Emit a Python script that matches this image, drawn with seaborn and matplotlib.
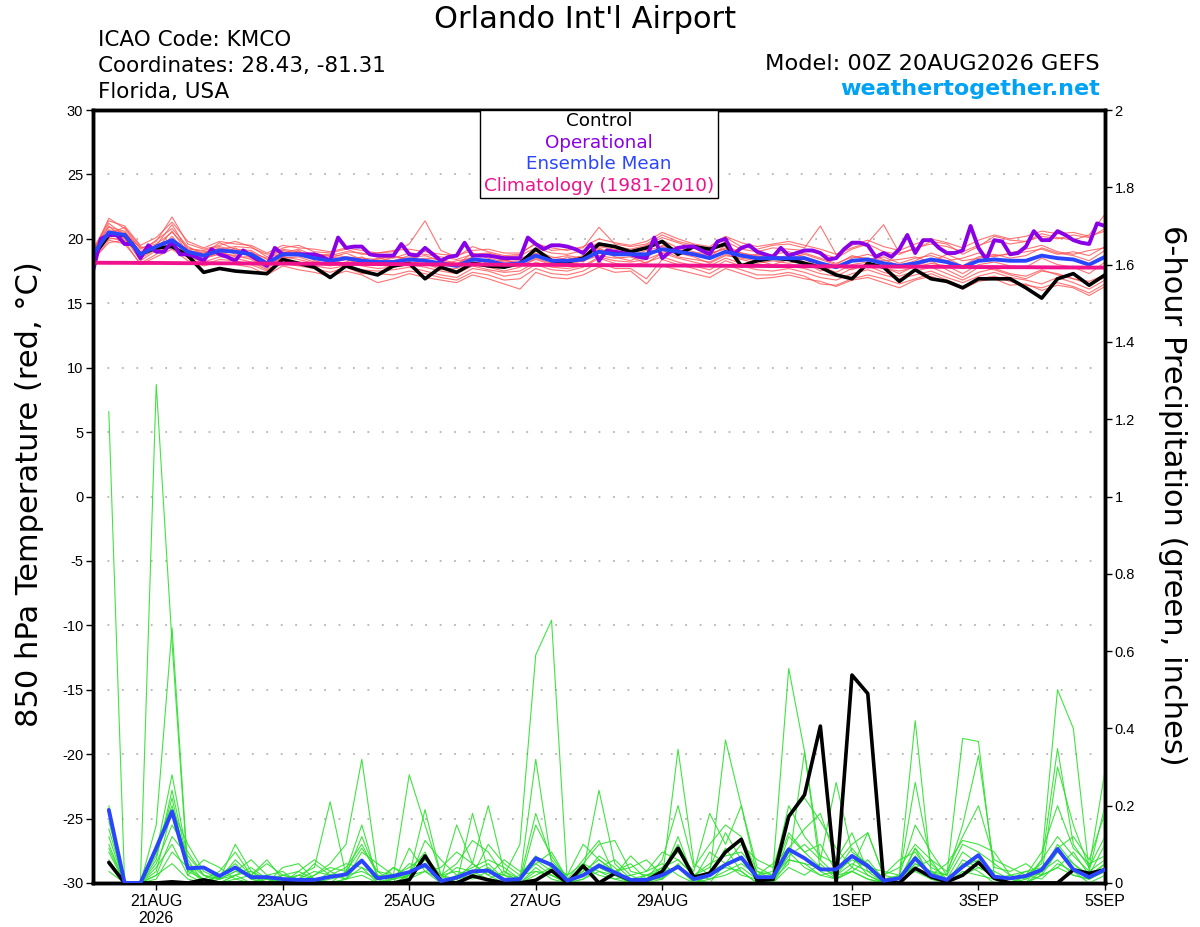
import pandas as pd
import seaborn as sns
import matplotlib
matplotlib.use("Agg")
import matplotlib.pyplot as plt
from matplotlib.patches import Rectangle

# forecast hours after 00Z 20AUG2026
fhour_6h = list(range(0, 385, 6))       # temperature, 65 times
fhour_3h = list(range(0, 385, 3))       # operational run is 3-hourly
fhour_precip = list(range(6, 385, 6))   # 6-hour totals, 64 times

temp_control = [18.6, 20.3, 20.3, 18.8, 19.3, 19.4, 18.7, 17.4, 17.7, 17.5,
                17.4, 17.3, 18.4, 18.1, 17.8, 17.0, 17.9, 17.5, 17.2, 17.9,
                18.1, 16.9, 17.8, 17.4, 18.1, 17.9, 17.8, 18.1, 19.2, 18.3,
                18.2, 18.5, 19.6, 19.4, 19.0, 19.3, 19.8, 18.8, 19.4, 19.2,
                19.6, 17.9, 18.3, 18.5, 18.4, 18.1, 17.8, 17.2, 16.9, 18.1,
                17.8, 16.7, 17.6, 16.9, 16.7, 16.2, 16.9, 16.9, 16.9, 16.2,
                15.4, 16.9, 17.3, 16.4, 17.2]

temp_oper = [17.5, 20.0, 20.3, 20.3, 19.6, 19.6, 18.5, 19.5, 19.0, 19.0,
             19.8, 18.8, 18.8, 18.6, 18.3, 19.2, 18.8, 18.6, 18.3, 19.1,
             18.7, 18.3, 17.9, 19.3, 18.8, 18.8, 18.8, 18.8, 18.8, 18.6,
             18.3, 20.1, 19.3, 19.4, 19.4, 18.8, 18.7, 18.7, 18.7, 19.6,
             18.8, 18.7, 19.3, 18.8, 18.3, 18.6, 18.7, 19.7, 18.7, 18.7,
             18.7, 18.6, 18.5, 18.5, 18.5, 20.1, 19.6, 19.2, 19.5, 19.5,
             19.4, 19.2, 18.9, 19.6, 18.3, 19.1, 19.0, 18.9, 18.8, 18.6,
             18.5, 20.1, 18.5, 19.0, 19.3, 19.4, 19.4, 19.1, 18.8, 19.8,
             20.0, 18.8, 19.3, 19.5, 19.0, 18.8, 18.6, 19.3, 18.7, 18.9,
             19.1, 19.1, 18.9, 18.4, 18.5, 19.2, 19.7, 19.7, 19.5, 18.6,
             18.9, 18.6, 19.2, 20.3, 18.9, 19.9, 19.9, 19.3, 18.9, 18.9,
             19.1, 21.0, 19.3, 18.4, 19.9, 19.8, 18.8, 18.9, 19.4, 20.6,
             19.9, 19.9, 20.6, 20.3, 19.9, 19.7, 19.6, 21.2, 21.0]

temp_mean = [18.8, 20.5, 20.3, 18.8, 19.4, 19.9, 19.0, 18.7, 19.1, 19.0,
             18.8, 18.1, 18.8, 18.8, 18.5, 18.3, 18.5, 18.3, 18.2, 18.2,
             18.4, 18.3, 18.1, 17.9, 18.4, 18.3, 18.0, 18.1, 18.7, 18.3,
             18.3, 18.4, 19.0, 18.8, 18.8, 18.8, 19.2, 19.0, 18.8, 18.5,
             19.0, 18.7, 18.5, 18.5, 18.5, 18.5, 18.1, 17.8, 18.3, 18.4,
             18.1, 17.9, 18.1, 18.4, 18.2, 17.8, 18.3, 18.4, 18.3, 18.3,
             18.7, 18.5, 18.4, 18.0, 18.6]

temp_clim = [18.15, 18.14, 18.14, 18.13, 18.13, 18.12, 18.11, 18.11, 18.10, 18.10,
             18.09, 18.08, 18.08, 18.07, 18.07, 18.06, 18.05, 18.05, 18.04, 18.04,
             18.03, 18.02, 18.02, 18.01, 18.01, 18.00, 17.99, 17.99, 17.98, 17.98,
             17.97, 17.96, 17.96, 17.95, 17.95, 17.94, 17.93, 17.93, 17.92, 17.92,
             17.91, 17.90, 17.90, 17.89, 17.89, 17.88, 17.87, 17.87, 17.86, 17.86,
             17.85, 17.84, 17.84, 17.83, 17.83, 17.82, 17.81, 17.81, 17.80, 17.80,
             17.79, 17.78, 17.78, 17.77, 17.77]

temp_members = [
    [18.9, 21.6, 20.8, 19.2, 19.8, 21.7, 19.6, 19.2, 19.5, 19.8, 19.4, 18.6, 19.3,
     19.5, 19.0, 18.9, 19.2, 18.8, 18.9, 19.0, 19.6, 21.4, 19.1, 18.6, 19.4, 19.0,
     18.7, 18.8, 19.7, 19.1, 19.2, 19.3, 20.9, 19.6, 19.4, 19.6, 20.3, 19.8, 19.5,
     19.2, 20.1, 19.4, 19.2, 19.5, 19.6, 19.3, 21.0, 18.8, 19.3, 19.7, 21.1, 18.9,
     19.2, 19.8, 19.6, 18.8, 19.4, 20.2, 19.9, 19.8, 20.4, 20.1, 19.9, 20.3, 21.9],
    [18.5, 20.1, 19.8, 18.0, 18.6, 19.2, 18.3, 17.9, 18.2, 18.0, 17.8, 17.2, 17.9,
     17.6, 17.4, 17.1, 17.5, 17.2, 16.6, 16.9, 17.3, 17.0, 16.8, 16.6, 17.2, 16.9,
     16.5, 16.1, 17.4, 17.0, 16.9, 17.2, 17.8, 17.4, 17.5, 16.5, 17.9, 17.6, 17.3,
     17.0, 17.7, 17.3, 16.9, 17.0, 17.2, 16.9, 16.7, 16.3, 16.8, 17.0, 16.6, 16.2,
     16.8, 17.1, 16.6, 16.1, 16.7, 16.9, 16.4, 16.5, 16.0, 16.4, 16.2, 15.6, 16.3],
    [19.0, 20.9, 20.6, 19.0, 19.9, 20.8, 19.4, 18.8, 19.7, 19.2, 19.1, 18.4, 19.2,
     19.0, 18.6, 18.5, 18.9, 18.4, 18.2, 18.6, 18.5, 18.7, 18.3, 18.0, 18.9, 18.5,
     18.2, 18.3, 19.1, 18.6, 18.4, 18.7, 19.4, 19.2, 19.0, 19.3, 19.9, 19.3, 19.0,
     18.6, 19.5, 18.9, 18.6, 18.8, 19.0, 18.6, 18.2, 17.7, 18.5, 18.8, 18.4, 17.9,
     18.3, 18.9, 18.5, 17.9, 18.6, 18.8, 18.5, 18.7, 19.3, 18.9, 18.7, 18.3, 19.1],
    [18.6, 20.4, 20.9, 19.4, 19.0, 20.2, 18.8, 18.5, 18.8, 19.3, 18.5, 17.9, 18.6,
     19.1, 18.3, 18.0, 18.2, 18.6, 18.0, 17.8, 18.2, 18.0, 17.8, 17.5, 18.0, 18.4,
     17.8, 17.9, 18.4, 18.0, 18.6, 18.2, 19.2, 18.6, 18.3, 18.9, 19.1, 18.6, 18.4,
     18.2, 18.8, 18.4, 18.1, 18.3, 18.1, 18.4, 17.8, 17.4, 18.0, 18.2, 17.7, 17.5,
     17.8, 18.1, 17.9, 17.3, 18.0, 18.2, 17.9, 17.8, 18.5, 18.0, 17.8, 17.3, 18.2],
    [19.1, 21.2, 20.3, 18.6, 19.5, 21.1, 19.1, 18.9, 19.3, 18.8, 19.0, 18.2, 19.0,
     18.7, 18.9, 18.6, 18.4, 18.1, 18.5, 18.3, 18.7, 18.2, 18.0, 18.3, 18.5, 18.1,
     18.4, 18.0, 18.9, 18.4, 18.1, 18.6, 19.3, 18.7, 19.1, 18.5, 19.5, 19.2, 18.7,
     18.8, 19.3, 18.9, 18.7, 18.5, 18.7, 18.9, 18.5, 18.1, 18.6, 18.5, 18.3, 18.4,
     18.6, 18.2, 18.8, 18.3, 18.5, 18.7, 18.8, 19.0, 19.2, 18.8, 19.0, 18.7, 19.4],
    [18.7, 20.0, 20.1, 18.3, 19.1, 19.6, 18.6, 18.2, 18.6, 18.5, 18.2, 17.6, 18.3,
     18.2, 17.9, 17.7, 17.9, 17.6, 17.5, 17.6, 17.8, 17.5, 17.2, 17.0, 17.7, 17.5,
     17.1, 17.3, 18.0, 17.6, 17.5, 17.8, 18.5, 18.1, 17.9, 18.2, 18.6, 18.2, 17.9,
     17.6, 18.3, 17.9, 17.6, 17.5, 17.7, 17.4, 17.0, 16.8, 17.3, 17.6, 17.2, 16.9,
     17.2, 17.5, 17.0, 16.6, 17.1, 17.4, 17.0, 16.8, 16.5, 17.0, 16.6, 16.1, 16.8],
    [18.8, 20.7, 20.5, 19.3, 19.6, 20.5, 19.3, 19.0, 19.2, 19.4, 19.3, 18.8, 19.1,
     18.9, 18.8, 18.7, 19.0, 18.9, 18.6, 18.5, 18.9, 18.8, 18.6, 18.4, 18.8, 18.9,
     18.6, 18.7, 19.3, 18.9, 18.8, 19.1, 19.7, 19.4, 19.2, 19.5, 20.1, 19.7, 19.3,
     19.0, 19.8, 19.2, 19.0, 19.3, 19.2, 19.1, 18.9, 18.5, 19.2, 19.6, 19.0, 18.8,
     19.3, 19.6, 19.4, 19.0, 19.5, 19.9, 19.6, 19.8, 20.2, 20.0, 20.3, 20.1, 20.8],
    [18.4, 19.7, 19.9, 18.8, 19.3, 19.4, 19.0, 18.4, 19.0, 18.6, 18.6, 17.9, 18.5,
     18.6, 18.2, 18.1, 18.4, 18.0, 18.1, 18.0, 18.2, 18.1, 17.6, 17.7, 18.2, 17.8,
     17.5, 17.8, 18.5, 18.1, 18.0, 18.3, 18.7, 18.5, 18.6, 18.1, 18.9, 18.9, 18.6,
     18.1, 18.7, 18.5, 18.3, 18.0, 18.4, 18.2, 17.5, 17.9, 17.6, 18.1, 17.8, 17.3,
     17.9, 18.3, 17.6, 17.0, 17.8, 17.6, 17.2, 16.9, 17.5, 17.3, 16.9, 16.7, 17.2],
    [19.0, 21.0, 20.0, 18.9, 19.5, 20.0, 19.2, 19.1, 19.4, 19.1, 18.9, 18.5, 18.9,
     19.2, 18.7, 18.8, 18.6, 18.5, 18.4, 18.7, 18.3, 18.5, 18.4, 18.1, 18.6, 18.7,
     18.3, 18.5, 18.8, 18.5, 18.7, 18.5, 19.1, 19.0, 18.7, 19.1, 19.4, 19.1, 18.9,
     18.9, 19.2, 18.6, 18.8, 18.7, 18.5, 18.8, 18.4, 18.0, 18.7, 18.4, 18.6, 18.1,
     18.5, 18.7, 18.3, 18.5, 18.9, 18.6, 18.9, 19.2, 19.5, 19.0, 18.8, 19.1, 19.3],
    [18.6, 20.3, 20.4, 18.5, 19.2, 20.6, 18.9, 18.6, 18.9, 18.7, 18.4, 17.7, 18.6,
     18.4, 18.1, 17.9, 18.1, 17.9, 17.7, 17.8, 18.0, 17.8, 17.5, 17.3, 17.9, 17.6,
     17.4, 17.5, 18.2, 17.8, 17.7, 17.9, 18.6, 18.3, 18.2, 18.4, 18.9, 18.5, 18.2,
     17.9, 18.5, 18.1, 17.9, 17.8, 17.9, 17.7, 17.3, 17.1, 17.7, 17.9, 17.4, 17.1,
     17.5, 17.8, 17.3, 16.8, 17.4, 17.7, 17.3, 17.1, 17.6, 17.2, 16.9, 16.5, 17.0],
    [19.2, 21.4, 21.0, 19.5, 20.1, 21.3, 19.8, 19.3, 19.8, 19.6, 19.5, 18.9, 19.5,
     19.3, 19.2, 19.0, 19.3, 19.1, 18.9, 19.1, 19.2, 19.0, 18.8, 18.7, 19.1, 19.2,
     18.9, 18.9, 19.6, 19.3, 19.1, 19.4, 20.0, 19.7, 19.5, 19.8, 20.5, 20.0, 19.6,
     19.4, 20.2, 19.7, 19.4, 19.6, 19.8, 19.5, 19.2, 18.8, 19.5, 19.9, 19.4, 19.1,
     19.6, 20.0, 19.7, 19.3, 19.9, 20.3, 20.0, 20.2, 20.6, 20.4, 20.5, 20.2, 20.6],
    [18.3, 19.9, 19.6, 18.1, 18.8, 19.7, 18.5, 18.0, 18.4, 18.3, 18.0, 17.5, 18.1,
     17.9, 17.7, 17.4, 17.8, 17.3, 17.3, 17.2, 17.5, 17.3, 17.0, 16.8, 17.4, 17.2,
     16.8, 16.9, 17.7, 17.3, 17.2, 17.5, 18.2, 17.7, 17.7, 16.9, 18.4, 18.0, 17.7,
     17.3, 18.0, 17.6, 17.2, 17.2, 17.4, 17.1, 16.5, 16.4, 16.9, 17.2, 16.9, 16.5,
     16.9, 17.3, 16.8, 16.3, 16.9, 17.1, 16.7, 16.4, 16.2, 16.6, 16.3, 15.8, 16.5],
]

precip_control = [0.053, 0, 0, 0, 0.003, 0, 0.008, 0,
                  0, 0, 0, 0, 0.005, 0, 0, 0,
                  0, 0, 0, 0.008, 0.07, 0.006, 0, 0.018,
                  0.008, 0, 0, 0.007, 0.032, 0, 0.044, 0,
                  0.025, 0.007, 0.006, 0.03, 0.09, 0.015, 0.025, 0.08,
                  0.113, 0.006, 0.009, 0.172, 0.228, 0.406, 0, 0.538,
                  0.49, 0.006, 0, 0.038, 0.016, 0.003, 0.02, 0.053,
                  0.012, 0, 0, 0, 0, 0.034, 0.025, 0.034]

precip_mean = [0.189, 0, 0, 0.09, 0.185, 0.038, 0.04, 0.018,
               0.04, 0.015, 0.015, 0.01, 0.008, 0.008, 0.016, 0.022,
               0.058, 0.012, 0.018, 0.028, 0.047, 0.005, 0.014, 0.03,
               0.032, 0.008, 0.01, 0.064, 0.047, 0.006, 0.02, 0.045,
               0.027, 0.008, 0.008, 0.02, 0.042, 0.01, 0.02, 0.047,
               0.066, 0.015, 0.015, 0.087, 0.064, 0.035, 0.035, 0.07,
               0.044, 0.006, 0.012, 0.064, 0.02, 0.008, 0.042, 0.072,
               0.016, 0.012, 0.018, 0.034, 0.088, 0.035, 0.015, 0.035]

precip_members = [
    [1.22, 0, 0, 0.02, 0.05, 0.01, 0, 0.02, 0.05, 0.01, 0, 0, 0.01, 0, 0.02, 0.01,
     0.06, 0, 0.01, 0.03, 0.08, 0, 0.01, 0.05, 0.02, 0, 0.01, 0.06, 0.03, 0, 0.02, 0.07,
     0.04, 0, 0, 0.02, 0.09, 0.01, 0.03, 0.05, 0.06, 0.01, 0, 0.12, 0.08, 0.04, 0.02, 0.05,
     0.03, 0, 0.01, 0.07, 0.02, 0, 0.04, 0.06, 0.01, 0.02, 0, 0.03, 0.1, 0.05, 0.01, 0.03],
    [0.14, 0, 0, 1.29, 0.62, 0.02, 0, 0.01, 0.03, 0.02, 0.06, 0.01, 0, 0, 0.01, 0.02,
     0.03, 0.01, 0, 0.02, 0.06, 0.01, 0, 0.02, 0.04, 0.01, 0, 0.03, 0.02, 0, 0.05, 0.03,
     0.01, 0, 0.02, 0.01, 0.05, 0, 0.02, 0.09, 0.03, 0, 0.01, 0.05, 0.34, 0.06, 0.02, 0.07,
     0.02, 0, 0, 0.09, 0.01, 0, 0.05, 0.03, 0, 0.01, 0, 0.02, 0.04, 0.08, 0.02, 0.05],
    [0.2, 0, 0, 0.15, 0.66, 0.03, 0.01, 0, 0.02, 0.04, 0.01, 0, 0.03, 0.01, 0, 0.01,
     0.02, 0, 0.04, 0.01, 0.03, 0, 0.02, 0.01, 0.03, 0.02, 0.1, 0.59, 0.68, 0, 0.01, 0.03,
     0.02, 0, 0.01, 0.03, 0.04, 0.01, 0, 0.05, 0.02, 0.01, 0, 0.04, 0.02, 0.05, 0.01, 0.03,
     0.01, 0, 0.02, 0.04, 0.06, 0, 0.02, 0.05, 0.01, 0, 0.02, 0.01, 0.05, 0.03, 0, 0.02],
    [0.1, 0, 0, 0.06, 0.24, 0.05, 0.02, 0, 0.01, 0, 0.02, 0.03, 0, 0.02, 0.05, 0.1,
     0.32, 0.03, 0, 0.02, 0.05, 0.01, 0.04, 0.03, 0.01, 0.03, 0, 0.02, 0.04, 0, 0.03, 0.06,
     0.03, 0, 0.01, 0.04, 0.06, 0.02, 0.01, 0.03, 0.05, 0.02, 0.03, 0.555, 0.34, 0.03, 0.01, 0.04,
     0.02, 0, 0.01, 0.05, 0.03, 0.01, 0.02, 0.04, 0.02, 0, 0.01, 0.03, 0.06, 0.02, 0.01, 0.03],
    [0.08, 0, 0, 0.03, 0.19, 0.1, 0.03, 0.01, 0.02, 0.03, 0, 0.01, 0.02, 0.04, 0.21, 0.02,
     0.06, 0.01, 0.02, 0.28, 0.15, 0.02, 0.01, 0.03, 0.05, 0.01, 0, 0.04, 0.01, 0, 0.04, 0.02,
     0.01, 0.02, 0.03, 0.05, 0.02, 0, 0.02, 0.04, 0.03, 0, 0.02, 0.06, 0.05, 0.02, 0.03, 0.06,
     0.04, 0, 0.02, 0.42, 0.03, 0, 0.06, 0.04, 0.02, 0.01, 0, 0.06, 0.5, 0.4, 0.03, 0.06],
    [0.05, 0, 0, 0.08, 0.28, 0.06, 0, 0.02, 0.04, 0.01, 0, 0.02, 0.01, 0, 0.03, 0.05,
     0.04, 0.02, 0.01, 0.02, 0.19, 0.02, 0, 0.18, 0.03, 0.02, 0.01, 0.05, 0.02, 0, 0.02, 0.04,
     0.06, 0.02, 0, 0.01, 0.346, 0.05, 0.02, 0.37, 0.2, 0.02, 0, 0.08, 0.04, 0.02, 0.01, 0.03,
     0.06, 0.01, 0, 0.05, 0.03, 0.02, 0.374, 0.366, 0.02, 0.01, 0.03, 0.02, 0.08, 0.05, 0.02, 0.1],
    [0.16, 0, 0, 0.1, 0.2, 0.04, 0.01, 0.03, 0.08, 0.02, 0, 0.04, 0.05, 0.01, 0, 0.03,
     0.15, 0.01, 0.04, 0.02, 0.03, 0.01, 0.15, 0.05, 0.2, 0.03, 0.01, 0.18, 0.06, 0.01, 0.03, 0.24,
     0.05, 0.01, 0.02, 0.03, 0.1, 0.02, 0.05, 0.07, 0.08, 0.03, 0.01, 0.07, 0.1, 0.06, 0.26, 0.08,
     0.05, 0.01, 0.02, 0.26, 0.05, 0.01, 0.08, 0.05, 0.03, 0.01, 0.02, 0.05, 0.348, 0.1, 0.04, 0.29],
    [0.12, 0, 0, 0.05, 0.15, 0.08, 0.02, 0.01, 0.03, 0.06, 0.02, 0, 0.01, 0.03, 0.02, 0.04,
     0.1, 0.02, 0.01, 0.05, 0.04, 0.02, 0.03, 0.02, 0.1, 0.05, 0.02, 0.07, 0.04, 0.02, 0.05, 0.1,
     0.11, 0.03, 0.02, 0.04, 0.08, 0.03, 0.18, 0.1, 0.2, 0.04, 0.02, 0.2, 0.12, 0.07, 0.05, 0.1,
     0.13, 0.02, 0.01, 0.09, 0.04, 0.02, 0.1, 0.08, 0.05, 0.02, 0.01, 0.06, 0.12, 0.07, 0.03, 0.2],
    [0.09, 0, 0, 0.04, 0.1, 0.02, 0.06, 0.04, 0.01, 0.02, 0.05, 0.02, 0.03, 0.06, 0.03, 0.01,
     0.08, 0.05, 0.02, 0.01, 0.11, 0.06, 0.02, 0.04, 0.06, 0.04, 0.01, 0.32, 0.05, 0.02, 0.1, 0.06,
     0.03, 0.04, 0.06, 0.02, 0.12, 0.01, 0.08, 0.05, 0.1, 0.06, 0.04, 0.17, 0.22, 0.16, 0.09, 0.04,
     0.13, 0.02, 0.04, 0.1, 0.06, 0.03, 0.12, 0.2, 0.06, 0.04, 0.02, 0.08, 0.2, 0.09, 0.05, 0.07],
    [0.06, 0, 0, 0.02, 0.12, 0.07, 0.02, 0.01, 0.1, 0.03, 0.01, 0.02, 0.01, 0.05, 0.02, 0.02,
     0.12, 0.02, 0, 0.09, 0.03, 0.04, 0.08, 0.05, 0.02, 0.06, 0.03, 0.05, 0.08, 0.01, 0.06, 0.11,
     0.02, 0.07, 0.03, 0.08, 0.06, 0.02, 0.04, 0.13, 0.06, 0.02, 0.05, 0.09, 0.14, 0.18, 0.06, 0.13,
     0.03, 0.02, 0.06, 0.08, 0.02, 0.05, 0.11, 0.1, 0.08, 0.02, 0.03, 0.04, 0.09, 0.12, 0.06, 0.18],
    [0.03, 0, 0, 0.01, 0.08, 0.04, 0, 0, 0.02, 0, 0.01, 0, 0.02, 0.01, 0, 0.01,
     0.04, 0, 0.01, 0.02, 0.05, 0, 0.01, 0.02, 0.01, 0, 0.02, 0.03, 0.02, 0, 0.01, 0.04,
     0.02, 0, 0.01, 0.01, 0.04, 0, 0.01, 0.02, 0.04, 0.01, 0, 0.06, 0.05, 0.04, 0.02, 0.03,
     0.01, 0, 0.01, 0.03, 0.01, 0, 0.03, 0.02, 0.01, 0, 0, 0.02, 0.04, 0.02, 0.01, 0.05],
    [0.18, 0, 0, 0.07, 0.22, 0.03, 0.04, 0.01, 0.06, 0.02, 0.01, 0.01, 0, 0.02, 0.04, 0.03,
     0.09, 0.03, 0.02, 0.04, 0.07, 0.02, 0.05, 0.11, 0.08, 0.02, 0, 0.15, 0.07, 0.01, 0.02, 0.05,
     0.03, 0.05, 0.01, 0.06, 0.2, 0.04, 0.1, 0.15, 0.12, 0.03, 0.02, 0.13, 0.08, 0.1, 0.03, 0.09,
     0.04, 0.03, 0.02, 0.15, 0.08, 0.02, 0.15, 0.33, 0.04, 0.03, 0.05, 0.02, 0.3, 0.15, 0.04, 0.12],
]

date_ticks = [24, 72, 120, 168, 216, 288, 336, 384]
date_labels = ["21AUG\n2026", "23AUG", "25AUG", "27AUG", "29AUG", "1SEP", "3SEP", "5SEP"]
temp_ticks = [-30, -25, -20, -15, -10, -5, 0, 5, 10, 15, 20, 25, 30]
precip_ticks = [0, 0.2, 0.4, 0.6, 0.8, 1, 1.2, 1.4, 1.6, 1.8, 2]
legend_entries = ["Control", "Operational", "Ensemble Mean", "Climatology (1981-2010)"]
legend_colors = ["black", "#8a00e6", "#2a45ff", "#f0128c"]


def to_long(members, hours, name):
    rows = []
    for k, vals in enumerate(members):
        for h, v in zip(hours, vals, strict=True):
            rows.append((k, h, v))
    return pd.DataFrame(rows, columns=["member", "hour", name])


df_temp = to_long(temp_members, fhour_6h, "temp")
df_precip = to_long(precip_members, fhour_precip, "precip")

sns.set_style("ticks")
plt.rcParams["font.family"] = ["Liberation Sans", "DejaVu Sans"]
plt.rcParams["axes.unicode_minus"] = False
plt.rcParams["text.color"] = "black"
plt.rcParams["xtick.color"] = "black"
plt.rcParams["ytick.color"] = "black"
plt.rcParams["xtick.labelcolor"] = "black"
plt.rcParams["ytick.labelcolor"] = "black"

wide = ["DejaVu Sans"]   # the original lettering runs wide

fig = plt.figure(figsize=(12, 9.27), dpi=100)
ax = fig.add_axes([0.0775, 0.0475, 0.8433, 0.8338])
ax2 = ax.twinx()

# temperature (left axis)
sns.lineplot(data=df_temp, x="hour", y="temp", units="member", estimator=None,
             color="#ff5050", lw=0.8, alpha=0.8, ax=ax, legend=False, zorder=2)
sns.lineplot(x=fhour_6h, y=temp_control, estimator=None, color="black", lw=2.6, ax=ax, zorder=4)
sns.lineplot(x=fhour_3h, y=temp_oper, estimator=None, color=legend_colors[1], lw=2.8, ax=ax, zorder=5)
sns.lineplot(x=fhour_6h, y=temp_mean, estimator=None, color=legend_colors[2], lw=2.8, ax=ax, zorder=6)
sns.lineplot(x=fhour_6h, y=temp_clim, estimator=None, color=legend_colors[3], lw=2.8, ax=ax, zorder=7)

# precipitation (right axis)
sns.lineplot(data=df_precip, x="hour", y="precip", units="member", estimator=None,
             color="#2ee02e", lw=0.8, alpha=0.9, ax=ax2, legend=False, zorder=2)
sns.lineplot(x=fhour_precip, y=precip_control, estimator=None, color="black", lw=2.6, ax=ax2, zorder=4)
sns.lineplot(x=fhour_precip, y=precip_mean, estimator=None, color=legend_colors[2], lw=2.8, ax=ax2, zorder=5)

ax.set_xlim(0, 384)
ax.set_ylim(-30, 30)
ax2.set_ylim(0, 2)
ax.set_xticks(date_ticks)
ax.set_xticklabels(date_labels)
ax.set_yticks(temp_ticks)
ax.set_yticklabels([str(t) for t in temp_ticks])
ax2.set_yticks(precip_ticks)
ax2.set_yticklabels([f"{p:g}" for p in precip_ticks])
ax.set_xlabel("")
ax.set_ylabel("")
ax2.set_ylabel("")

ax.yaxis.grid(True, color="#b4b4b4", linestyle=(0, (1, 7)), linewidth=1.3)
ax.set_axisbelow(True)

for a in (ax, ax2):
    for s in a.spines.values():
        s.set_linewidth(2.5)
        s.set_color("black")
ax.tick_params(axis="y", direction="out", length=5, width=1, labelsize=10.5, pad=2)
ax.tick_params(axis="x", direction="out", length=5, width=1, labelsize=11.5, pad=3)
ax2.tick_params(axis="y", direction="out", length=5, width=1, labelsize=10.5, pad=2)

# legend box, coloured text only
ax2.add_patch(Rectangle((0.3824, 0.8862), 0.2352, 0.1138, transform=ax2.transAxes,
                        facecolor="white", edgecolor="black", lw=1, zorder=10))
for k, (lab, col) in enumerate(zip(legend_entries, legend_colors)):
    ax2.text(0.5, 0.9858 - k * 0.0281, lab, color=col, fontsize=13.2, family=wide,
             ha="center", va="center", transform=ax2.transAxes, zorder=11)

# headings
fig.text(0.4875, 0.9785, "Orlando Int'l Airport", fontsize=22, family=wide, ha="center", va="center")
fig.text(0.0817, 0.9569, "ICAO Code: KMCO", fontsize=15.5, family=wide, ha="left", va="center")
fig.text(0.0817, 0.9288, "Coordinates: 28.43, -81.31", fontsize=15.5, family=wide, ha="left", va="center")
fig.text(0.0817, 0.9008, "Florida, USA", fontsize=15.5, family=wide, ha="left", va="center")
fig.text(0.9167, 0.9310, "Model: 00Z 20AUG2026 GEFS", fontsize=16.2, family=wide, ha="right", va="center")
fig.text(0.9167, 0.9040, "weathertogether.net", fontsize=16, fontweight="bold", family=wide,
         color="#00a2f5", ha="right", va="center")

fig.text(0.025, 0.4671, "850 hPa Temperature (red, °C)", fontsize=22, family=wide, rotation=90,
         ha="center", va="center")
fig.text(0.9767, 0.4660, "6-hour Precipitation (green, inches)", fontsize=22, family=wide,
         rotation=270, ha="center", va="center")

fig.savefig("out.png", dpi=100, facecolor="white")
